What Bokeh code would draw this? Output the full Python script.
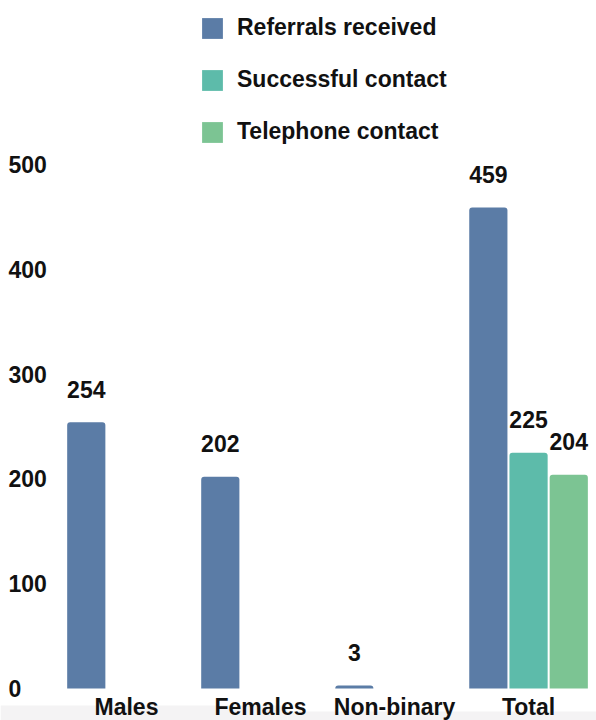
from bokeh.plotting import figure
from bokeh.models import Range1d, Legend, LegendItem, BoxAnnotation, ColumnDataSource
from bokeh.core.properties import value
from bokeh.embed import file_html
from bokeh.resources import INLINE

# Data
categories = ["Males", "Females", "Non-binary", "Total"]
referrals = [254, 202, 3, 459]
successful = [None, None, None, 225]
telephone = [None, None, None, 204]
series_names = ["Referrals received", "Successful contact", "Telephone contact"]
series_colors = ["#5b7ca6", "#5dbbaa", "#7cc493"]
y_ticks = [0, 100, 200, 300, 400, 500]

FONT_NAME = "Liberation Sans"
FONT = value(FONT_NAME)
FONT_SIZE = "23px"
x_range = Range1d(-0.94, 3.507)
y_range = Range1d(-30.5, 656.5)

p = figure(width=596, height=720, x_range=x_range, y_range=y_range,
           output_backend="svg", toolbar_location=None,
           min_border=0, x_axis_location=None, y_axis_location=None)
p.outline_line_color = None
p.grid.visible = False
p.background_fill_color = "white"
p.border_fill_color = "white"

# faint strip along the bottom edge
p.add_layout(BoxAnnotation(top=-16.2, right=1.2, fill_color="#f4f3f4", fill_alpha=1,
                           line_alpha=0, level="underlay"))
p.add_layout(BoxAnnotation(top=-22.0, left=1.2, fill_color="#f4f3f4", fill_alpha=1,
                           line_alpha=0, level="underlay"))

offsets = [-0.3, 0.0, 0.3]
bar_width = 0.285
legend_items = []
for name, vals, color, off in zip(series_names, [referrals, successful, telephone],
                                  series_colors, offsets):
    xs, ys = [], []
    for i, v in enumerate(vals):
        if v is not None:
            xs.append(i + off)
            ys.append(v)
    src = ColumnDataSource(dict(x=xs, top=ys, label=[str(v) for v in ys]))
    r = p.vbar(x="x", top="top", bottom=0, width=bar_width, source=src,
               fill_color=color, line_color=None, border_radius=(3, 3, 0, 0))
    p.text(x="x", y="top", text="label", source=src, text_font=FONT,
           text_font_style="bold", text_font_size=FONT_SIZE, text_color="#111111",
           text_align="center", text_baseline="alphabetic", y_offset=-33)
    legend_items.append(LegendItem(label=name, renderers=[r]))

# category labels under the bars
p.text(x=list(range(len(categories))), y=[0] * len(categories), text=categories,
       text_font=FONT, text_font_style="bold", text_font_size=FONT_SIZE,
       text_color="#111111", text_align="center", text_baseline="alphabetic",
       y_offset=18)

# value scale labels down the left side
p.text(x=[x_range.start] * len(y_ticks), y=y_ticks, text=[str(t) for t in y_ticks],
       text_font=FONT, text_font_style="bold", text_font_size=FONT_SIZE,
       text_color="#111111", text_align="left", text_baseline="alphabetic",
       x_offset=8, y_offset=0)

legend = Legend(items=legend_items, location=(199, 575), orientation="vertical",
                glyph_width=26, glyph_height=26, spacing=25, padding=0, margin=0,
                label_standoff=12, label_text_font=FONT_NAME, label_text_font_style="bold",
                label_text_font_size=FONT_SIZE, label_text_color="#111111",
                border_line_alpha=0, background_fill_alpha=0)
p.add_layout(legend)

open("out.html", "w").write(file_html(p, INLINE))
